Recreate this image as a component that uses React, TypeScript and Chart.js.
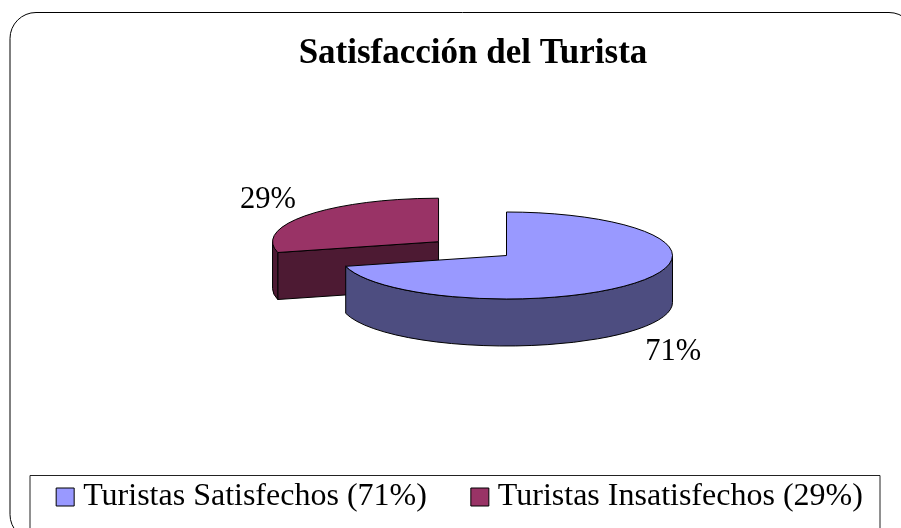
import React, { useEffect, useRef } from "react";
import { Chart, registerables } from "chart.js";

Chart.register(...registerables);

const TITLE = "Satisfacción del Turista";
const categories = ["Turistas Satisfechos (71%)", "Turistas Insatisfechos (29%)"];
const percentValues = [71, 29];
const sliceColors = ["#9999FF", "#993366"];
const sideColors = ["#4D4D80", "#4D1A33"];
// Chart.js moves an arc by a quarter of its offset option
const sliceOffsets = [0, 344];

const FONT = "'Liberation Serif', 'Times New Roman', serif";
const TILT = 0.262;
const PIE_Y = 255.5;
const DEPTH = 47;

// Chart.js also grows an offset arc's radius by this much when it draws it
function radiusGrowth(arc: any) {
  const off = (arc.options.offset || 0) / 4;
  return off * (1 - Math.sin(Math.min(Math.PI, arc.circumference || 0)));
}

function sliceGeometry(arc: any) {
  const mid = (arc.startAngle + arc.endAngle) / 2;
  const off = (arc.options.offset || 0) / 4;
  const r = arc.outerRadius + radiusGrowth(arc);
  return {
    cx: arc.x + Math.cos(mid) * off,
    cy: PIE_Y + Math.sin(mid) * off * TILT,
    r,
    ry: r * TILT,
    a0: arc.startAngle,
    a1: arc.endAngle,
    mid,
  };
}

const piePlugin = {
  id: "pie3d",
  afterLayout(chart: any) {
    // A wide area centred on the pie keeps the fixed radius from being capped
    const area = chart.chartArea;
    area.left = -493.5;
    area.right = 1506.5;
    area.width = 2000;
    area.top = -744;
    area.bottom = 1256;
    area.height = 2000;
    const legend = chart.legend;
    legend.left = 1;
    legend.right = 925;
    legend.width = 924;
    legend.top = 430;
    legend.bottom = legend.top + legend.height;
    const title = chart.titleBlock;
    title.left = 173;
    title.right = 773;
    title.width = 600;
    title.top = 33;
  },
  afterDatasetsUpdate(chart: any) {
    chart.getDatasetMeta(0).data.forEach((arc: any) => {
      arc.outerRadius -= radiusGrowth(arc);
    });
  },
  beforeDraw(chart: any) {
    const ctx = chart.ctx;
    ctx.save();
    ctx.fillStyle = "#fff";
    ctx.fillRect(0, 0, chart.width, chart.height);
    ctx.strokeStyle = "#000";
    ctx.lineWidth = 1;
    ctx.beginPath();
    ctx.roundRect(10, 12.5, 905, 528, 26);
    ctx.stroke();
    ctx.fillStyle = "#fff";
    ctx.strokeStyle = "#222";
    ctx.beginPath();
    ctx.rect(30, 475.5, 850, 80);
    ctx.fill();
    ctx.stroke();
    ctx.restore();
  },
  beforeDatasetsDraw(chart: any) {
    const ctx = chart.ctx;
    const arcs = chart.getDatasetMeta(0).data;
    ctx.save();
    ctx.lineWidth = 1;
    ctx.strokeStyle = "#000";
    for (let i = arcs.length - 1; i >= 0; i--) {
      const g = sliceGeometry(arcs[i]);
      ctx.fillStyle = sideColors[i];
      const walls = [
        { a: g.a0, n: g.a0 - Math.PI / 2 },
        { a: g.a1, n: g.a1 + Math.PI / 2 },
      ];
      for (const w of walls) {
        if (Math.sin(w.n) > 0.01) {
          const x = g.cx + Math.cos(w.a) * g.r;
          const y = g.cy + Math.sin(w.a) * g.ry;
          ctx.beginPath();
          ctx.moveTo(g.cx, g.cy);
          ctx.lineTo(x, y);
          ctx.lineTo(x, y + DEPTH);
          ctx.lineTo(g.cx, g.cy + DEPTH);
          ctx.closePath();
          ctx.fill();
          ctx.stroke();
        }
      }
      const s = Math.max(g.a0, 0);
      const e = Math.min(g.a1, Math.PI);
      if (e > s) {
        ctx.beginPath();
        ctx.ellipse(g.cx, g.cy, g.r, g.ry, 0, s, e, false);
        ctx.ellipse(g.cx, g.cy + DEPTH, g.r, g.ry, 0, e, s, true);
        ctx.closePath();
        ctx.fill();
        ctx.stroke();
      }
    }
    ctx.restore();
    // squash the library's round slices into the tilted ellipse
    ctx.save();
    ctx.translate(0, PIE_Y);
    ctx.scale(1, TILT);
    ctx.translate(0, -arcs[0].y);
  },
  afterDatasetsDraw(chart: any) {
    const ctx = chart.ctx;
    ctx.restore();
    const arcs = chart.getDatasetMeta(0).data;
    ctx.save();
    ctx.lineWidth = 1;
    ctx.strokeStyle = "#000";
    arcs.forEach((arc: any) => {
      const g = sliceGeometry(arc);
      ctx.beginPath();
      ctx.moveTo(g.cx, g.cy);
      ctx.ellipse(g.cx, g.cy, g.r, g.ry, 0, g.a0, g.a1, false);
      ctx.closePath();
      ctx.stroke();
    });
    ctx.fillStyle = "#000";
    ctx.font = `30.5px ${FONT}`;
    ctx.textAlign = "center";
    ctx.textBaseline = "middle";
    arcs.forEach((arc: any, i: number) => {
      const g = sliceGeometry(arc);
      const below = Math.sin(g.mid) > 0;
      const lx = g.cx + Math.cos(g.mid) * g.r * 1.27 - (below ? 0 : 4);
      const rawY = g.cy + Math.sin(g.mid) * g.ry * 1.27;
      const ly = rawY + (below ? DEPTH + 16 : -8);
      ctx.fillText(`${percentValues[i]}%`, lx, ly);
    });
    ctx.restore();
  },
};

export default function App() {
  const ref = useRef<HTMLCanvasElement | null>(null);
  useEffect(() => {
    const chart = new Chart(ref.current as HTMLCanvasElement, {
      type: "pie",
      data: {
        labels: categories,
        datasets: [
          {
            data: percentValues,
            backgroundColor: sliceColors,
            borderWidth: 0,
            offset: sliceOffsets,
            clip: false,
          } as any,
        ],
      },
      options: {
        animation: false,
        responsive: false,
        radius: 166,
        layout: { padding: { left: -100, right: -100 } },
        plugins: {
          tooltip: { enabled: false },
          title: {
            display: true,
            text: TITLE,
            color: "#000",
            padding: 0,
            font: { family: FONT, size: 35, weight: "bold", lineHeight: 1.2 },
          },
          legend: {
            display: true,
            position: "bottom",
            labels: {
              usePointStyle: true,
              pointStyle: "rect",
              boxWidth: 4,
              boxHeight: 18,
              padding: 51,
              color: "#000",
              font: { family: FONT, size: 32 },
              generateLabels: (c: any) =>
                (Chart as any).overrides.doughnut.plugins.legend.labels
                  .generateLabels(c)
                  .map((it: any) => ({ ...it, strokeStyle: "#000", lineWidth: 1, pointStyle: "rect" })),
            },
          },
        },
      } as any,
      plugins: [piePlugin as any],
    });
    return () => chart.destroy();
  }, []);
  return (
    <canvas
      ref={ref}
      width={901}
      height={528}
      style={{ position: "fixed", left: 0, top: 0, display: "block", width: 901, height: 528 }}
    />
  );
}
